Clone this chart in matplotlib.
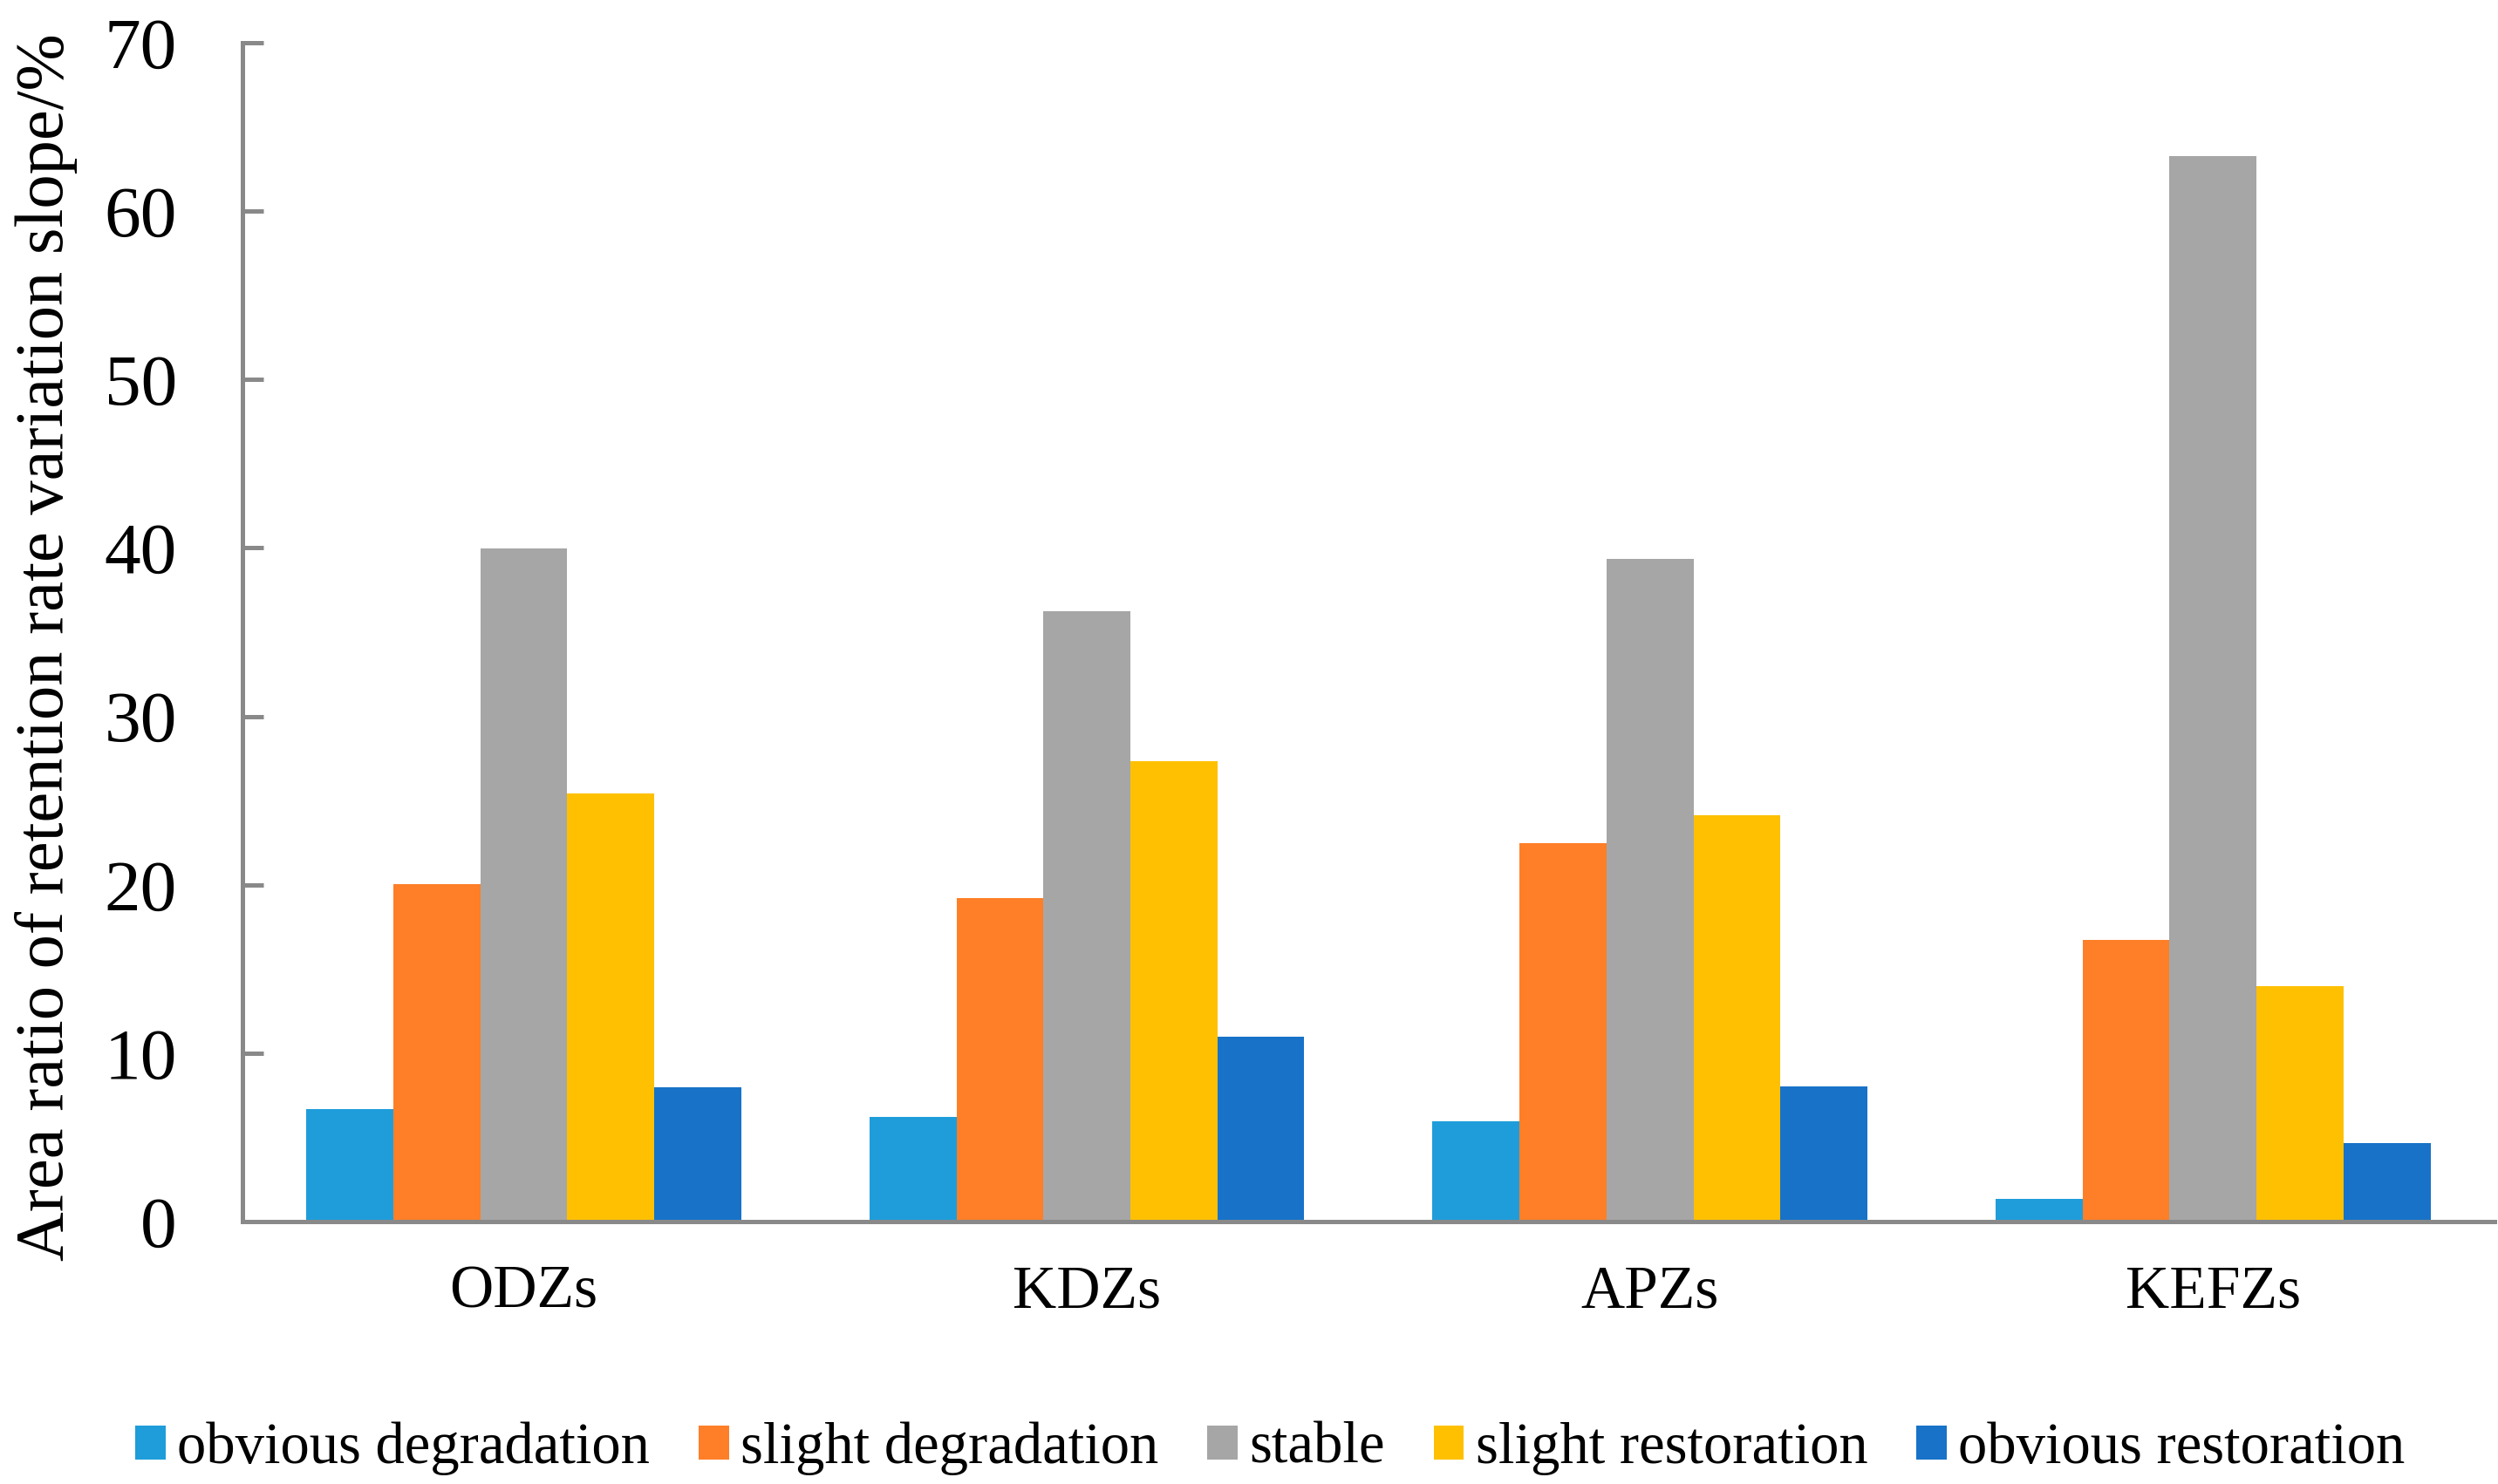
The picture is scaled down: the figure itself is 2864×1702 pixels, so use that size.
import numpy as np
import matplotlib
matplotlib.use("Agg")
import matplotlib.pyplot as plt

plt.rcParams["font.family"] = ["Liberation Serif", "DejaVu Serif"]

zones = ["ODZs", "KDZs", "APZs", "KEFZs"]
classes = ["obvious degradation", "slight degradation", "stable",
           "slight restoration", "obvious restoration"]

obvious_deg = [6.7, 6.2, 5.95, 1.35]
slight_deg = [20.05, 19.2, 22.45, 16.7]
stable = [39.95, 36.25, 39.35, 63.25]
slight_res = [25.4, 27.35, 24.1, 14.0]
obvious_res = [7.95, 10.95, 8.0, 4.65]

series = [obvious_deg, slight_deg, stable, slight_res, obvious_res]
colors = ["#1F9DDA", "#FE7F28", "#A6A6A6", "#FEC000", "#1772C8"]

fig = plt.figure(figsize=(28.64, 17.02), dpi=100)
ax = fig.add_axes([0.097, 0.1769, 0.9016, 0.7943])

x = np.arange(len(zones))
w = 0.1545
for i, (vals, col, lab) in enumerate(zip(series, colors, classes)):
    ax.bar(x + (i - 2) * w, vals, width=w, color=col, label=lab, linewidth=0)

ax.set_xlim(-0.5, 3.5)
ax.set_ylim(0, 70)
ax.set_yticks(range(0, 71, 10))
ax.set_xticks(x)
ax.set_xticklabels(zones)

for s in ["top", "right"]:
    ax.spines[s].set_visible(False)
for s in ["left", "bottom"]:
    ax.spines[s].set_color("#898989")
    ax.spines[s].set_linewidth(3.6)

ax.tick_params(axis="y", direction="in", length=17, width=3.6, color="#898989",
               labelsize=60, pad=54)
ax.tick_params(axis="x", length=0, labelsize=50, pad=36)

ax.set_ylabel("Area ratio of retention rate variation slope/%", fontsize=56.5)
ax.yaxis.set_label_coords(-0.073, 0.487)

fig.legend(loc="center", bbox_to_anchor=(0.5085, 0.024), ncol=5, frameon=False,
           fontsize=48, handlelength=0.52, handleheight=0.52,
           handletextpad=0.2, columnspacing=0.84)

fig.savefig("out.png", dpi=100)
